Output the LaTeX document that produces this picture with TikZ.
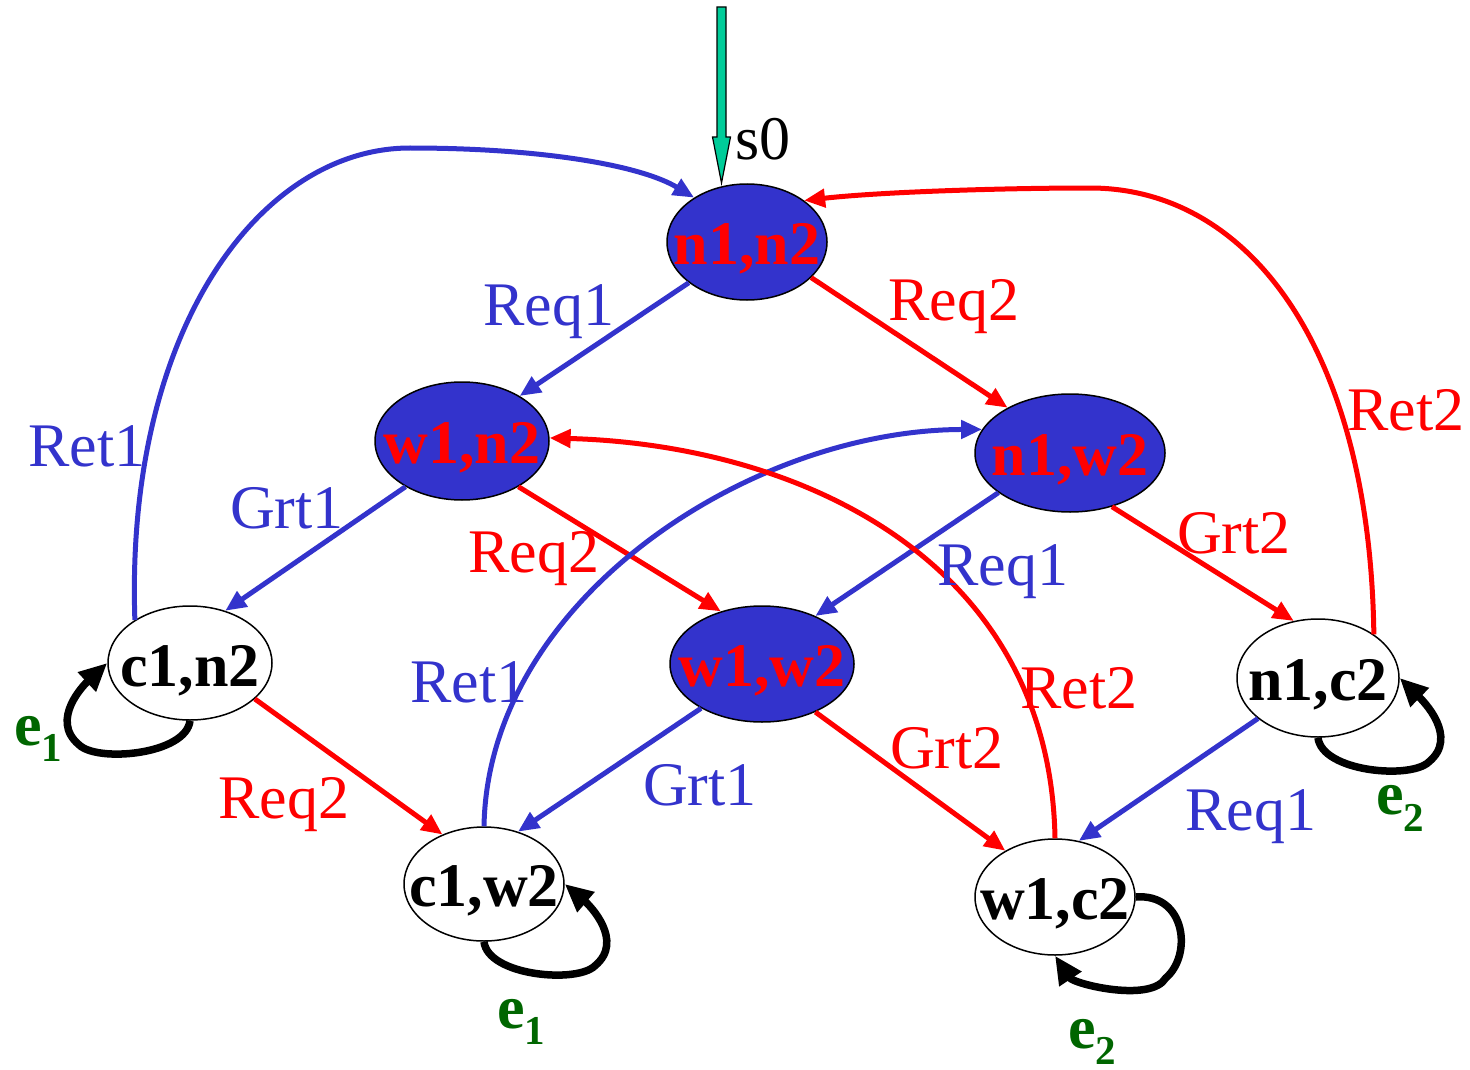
\documentclass[tikz,border=0pt]{standalone}
\usepackage{fontspec}
\setmainfont{Liberation Serif}
\usetikzlibrary{shapes.geometric,arrows.meta}
\definecolor{nblue}{RGB}{51,51,204}
\definecolor{ered}{RGB}{255,0,0}
\definecolor{egreen}{RGB}{0,102,0}
\definecolor{iteal}{RGB}{0,204,153}
\begin{document}
\begin{tikzpicture}[x=1pt,y=1pt,
  st/.style={ellipse, draw=black, line width=1.5pt, inner sep=0pt},
  full/.style={st, fill=nblue},
  empty/.style={st, fill=white},
  ntxt/.style={font=\fontsize{62}{62}\selectfont\bfseries, inner sep=0pt, anchor=base},
  lab/.style={font=\fontsize{62}{62}\selectfont, inner sep=0pt, anchor=base west},
  bl/.style={draw=nblue, line width=5pt, -{Triangle[length=21pt,width=18pt]}},
  rd/.style={draw=ered, line width=5pt, -{Triangle[length=21pt,width=18pt]}},
  loopedge/.style={draw=black, line width=7.5pt, -{Triangle[length=28pt,width=25pt]}},
  elab/.style={font=\fontsize{62}{62}\selectfont\bfseries, text=egreen, inner sep=0pt, anchor=base west}
]
\useasboundingbox (0,0) rectangle (1470,-1070);
% states
\node[full, minimum width=160pt, minimum height=116pt] (n1n2) at (747,-242) {};
\node[full, minimum width=174pt, minimum height=118pt] (w1n2) at (462,-441) {};
\node[full, minimum width=190pt, minimum height=118pt] (n1w2) at (1070,-453) {};
\node[full, minimum width=184pt, minimum height=116pt] (w1w2) at (762,-664) {};
\node[empty, minimum width=164pt, minimum height=114pt] (c1n2) at (190,-663) {};
\node[empty, minimum width=162pt, minimum height=118pt] (n1c2) at (1318,-678) {};
\node[empty, minimum width=160pt, minimum height=114pt] (c1w2) at (484,-884) {};
\node[empty, minimum width=160pt, minimum height=116pt] (w1c2) at (1055,-897) {};

% initial arrow
\coordinate (init) at (721.5,-7);
\filldraw[fill=iteal, draw=black, line width=1.2pt]
  (717,-7) -- (726,-7) -- (726,-137) -- (730.5,-137) -- (721.5,-183) -- (712.5,-137) -- (717,-137) -- cycle;
\node[lab] (s0) at (735,-160) {s0};

% transitions
\draw[bl] (n1n2.215) -- (w1n2.38);
\draw[rd] (n1n2.331) -- (n1w2.144);
\draw[bl] (c1n2.142) .. controls (125,-330) and (260,-148) .. (410,-148)
          .. controls (540,-148) and (640,-165) .. (n1n2.140);
\draw[rd] (n1c2.38) .. controls (1370,-350) and (1250,-188) .. (1090,-188)
          .. controls (1000,-188) and (880,-192) .. (n1n2.36);
\draw[bl] (w1n2.219) -- (c1n2.56);
\draw[rd] (w1n2.321) -- (w1w2.128);
\draw[bl] (n1w2.209) -- (w1w2.42);
\draw[rd] (n1w2.308) -- (n1c2.113);
\draw[bl] (c1w2.90) .. controls (488,-600) and (750,-430) .. (n1w2.165);
\draw[rd] (w1c2.90) .. controls (1050,-560) and (800,-445) .. (w1n2.2);
\draw[rd] (c1n2.331) -- (c1w2.130);
\draw[bl] (w1w2.216) -- (c1w2.57);
\draw[rd] (w1w2.318) -- (w1c2.137);
\draw[bl] (n1c2.214) -- (w1c2.67);

% self loops
\draw[loopedge, shift={(c1n2.270)}] (c1n2.270) .. controls (-4,-34) and (-93,-42) .. (-111,-24)
   .. controls (-141,1) and (-105,37) .. (c1n2.180);
\draw[loopedge, shift={(c1w2.270)}] (c1w2.270) .. controls (4,-34) and (93,-42) .. (111,-24)
   .. controls (141,1) and (105,37) .. (c1w2.0);
\draw[loopedge, shift={(n1c2.270)}] (n1c2.270) .. controls (4,-34) and (93,-42) .. (111,-24)
   .. controls (141,1) and (105,37) .. (n1c2.0);
\draw[loopedge, shift={(w1c2.0)}] (w1c2.0) .. controls (50,4) and (57,-58) .. (30,-81)
   .. controls (15,-106) and (-62,-87) .. (w1c2.270);

% state texts
\node[ntxt, text=ered] (tn1n2) at (747,-264) {n1,n2};
\node[ntxt, text=ered] (tw1n2) at (462,-463) {w1,n2};
\node[ntxt, text=ered] (tn1w2) at (1070,-475) {n1,w2};
\node[ntxt, text=ered] (tw1w2) at (762,-686) {w1,w2};
\node[ntxt] (tc1n2) at (190,-686) {c1,n2};
\node[ntxt] (tn1c2) at (1318,-700) {n1,c2};
\node[ntxt] (tc1w2) at (484,-906) {c1,w2};
\node[ntxt] (tw1c2) at (1055,-919) {w1,c2};

% transition labels
\node[lab, text=nblue] (l1) at (483,-325) {Req1};
\node[lab, text=ered] (l2) at (888,-320) {Req2};
\node[lab, text=nblue] (l3) at (28,-466) {Ret1};
\node[lab, text=ered] (l4) at (1347,-430) {Ret2};
\node[lab, text=nblue] (l5) at (230,-528) {Grt1};
\node[lab, text=ered] (l6) at (468,-572) {Req2};
\node[lab, text=nblue] (l7) at (937,-585) {Req1};
\node[lab, text=ered] (l8) at (1177,-553) {Grt2};
\node[lab, text=nblue] (l9) at (410,-702) {Ret1};
\node[lab, text=ered] (l10) at (1020,-708) {Ret2};
\node[lab, text=ered] (l11) at (218,-818) {Req2};
\node[lab, text=nblue] (l12) at (643,-805) {Grt1};
\node[lab, text=ered] (l13) at (890,-768) {Grt2};
\node[lab, text=nblue] (l14) at (1185,-830) {Req1};

% loop labels
\node[elab] (e1a) at (14,-745) {e\raisebox{-16pt}{\fontsize{41}{41}\selectfont 1}};
\node[elab] (e1b) at (497,-1028) {e\raisebox{-16pt}{\fontsize{41}{41}\selectfont 1}};
\node[elab] (e2a) at (1068,-1048) {e\raisebox{-16pt}{\fontsize{41}{41}\selectfont 2}};
\node[elab] (e2b) at (1376,-814) {e\raisebox{-17pt}{\fontsize{41}{41}\selectfont 2}};
\end{tikzpicture}
\end{document}
